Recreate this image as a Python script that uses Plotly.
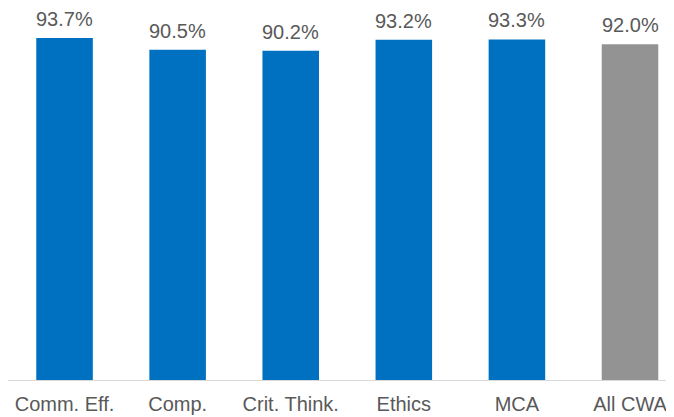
import plotly.graph_objects as go

categories = ["Comm. Eff.", "Comp.", "Crit. Think.", "Ethics", "MCA", "All CWA"]
rates = [93.7, 90.5, 90.2, 93.2, 93.3, 92.0]
bar_colors = ["#0070C0"] * 5 + ["#939393"]

TEXT_COLOR = "#595959"
FONT = "Liberation Sans, Arial, sans-serif"

fig = go.Figure()
fig.add_trace(
    go.Bar(
        x=list(range(len(categories))),
        y=rates,
        marker_color=bar_colors,
        marker_line_width=0,
        width=0.5,
        hoverinfo="skip",
    )
)

for i, v in enumerate(rates):
    fig.add_annotation(
        x=i,
        y=v,
        text=f"{v:.1f}%",
        showarrow=False,
        yanchor="bottom",
        yshift=6,
        font=dict(size=20, color=TEXT_COLOR, family=FONT),
    )

# page has an 8px body margin, so the figure is sized to fit inside it
fig.update_layout(
    width=666,
    height=409,
    margin=dict(l=0, r=0, t=7, b=37),
    plot_bgcolor="white",
    paper_bgcolor="white",
    showlegend=False,
    font=dict(family=FONT, size=20, color=TEXT_COLOR),
)
fig.update_xaxes(
    tickmode="array",
    tickvals=list(range(len(categories))),
    ticktext=categories,
    range=[-0.5, 5.389],
    showline=True,
    linecolor="#D9D9D9",
    linewidth=1,
    showgrid=False,
    ticks="",
    ticklabelstandoff=6,
    tickfont=dict(size=20, color=TEXT_COLOR, family=FONT),
)
fig.update_yaxes(range=[0, 100], visible=False, showgrid=False)

fig.write_html("out.html")
